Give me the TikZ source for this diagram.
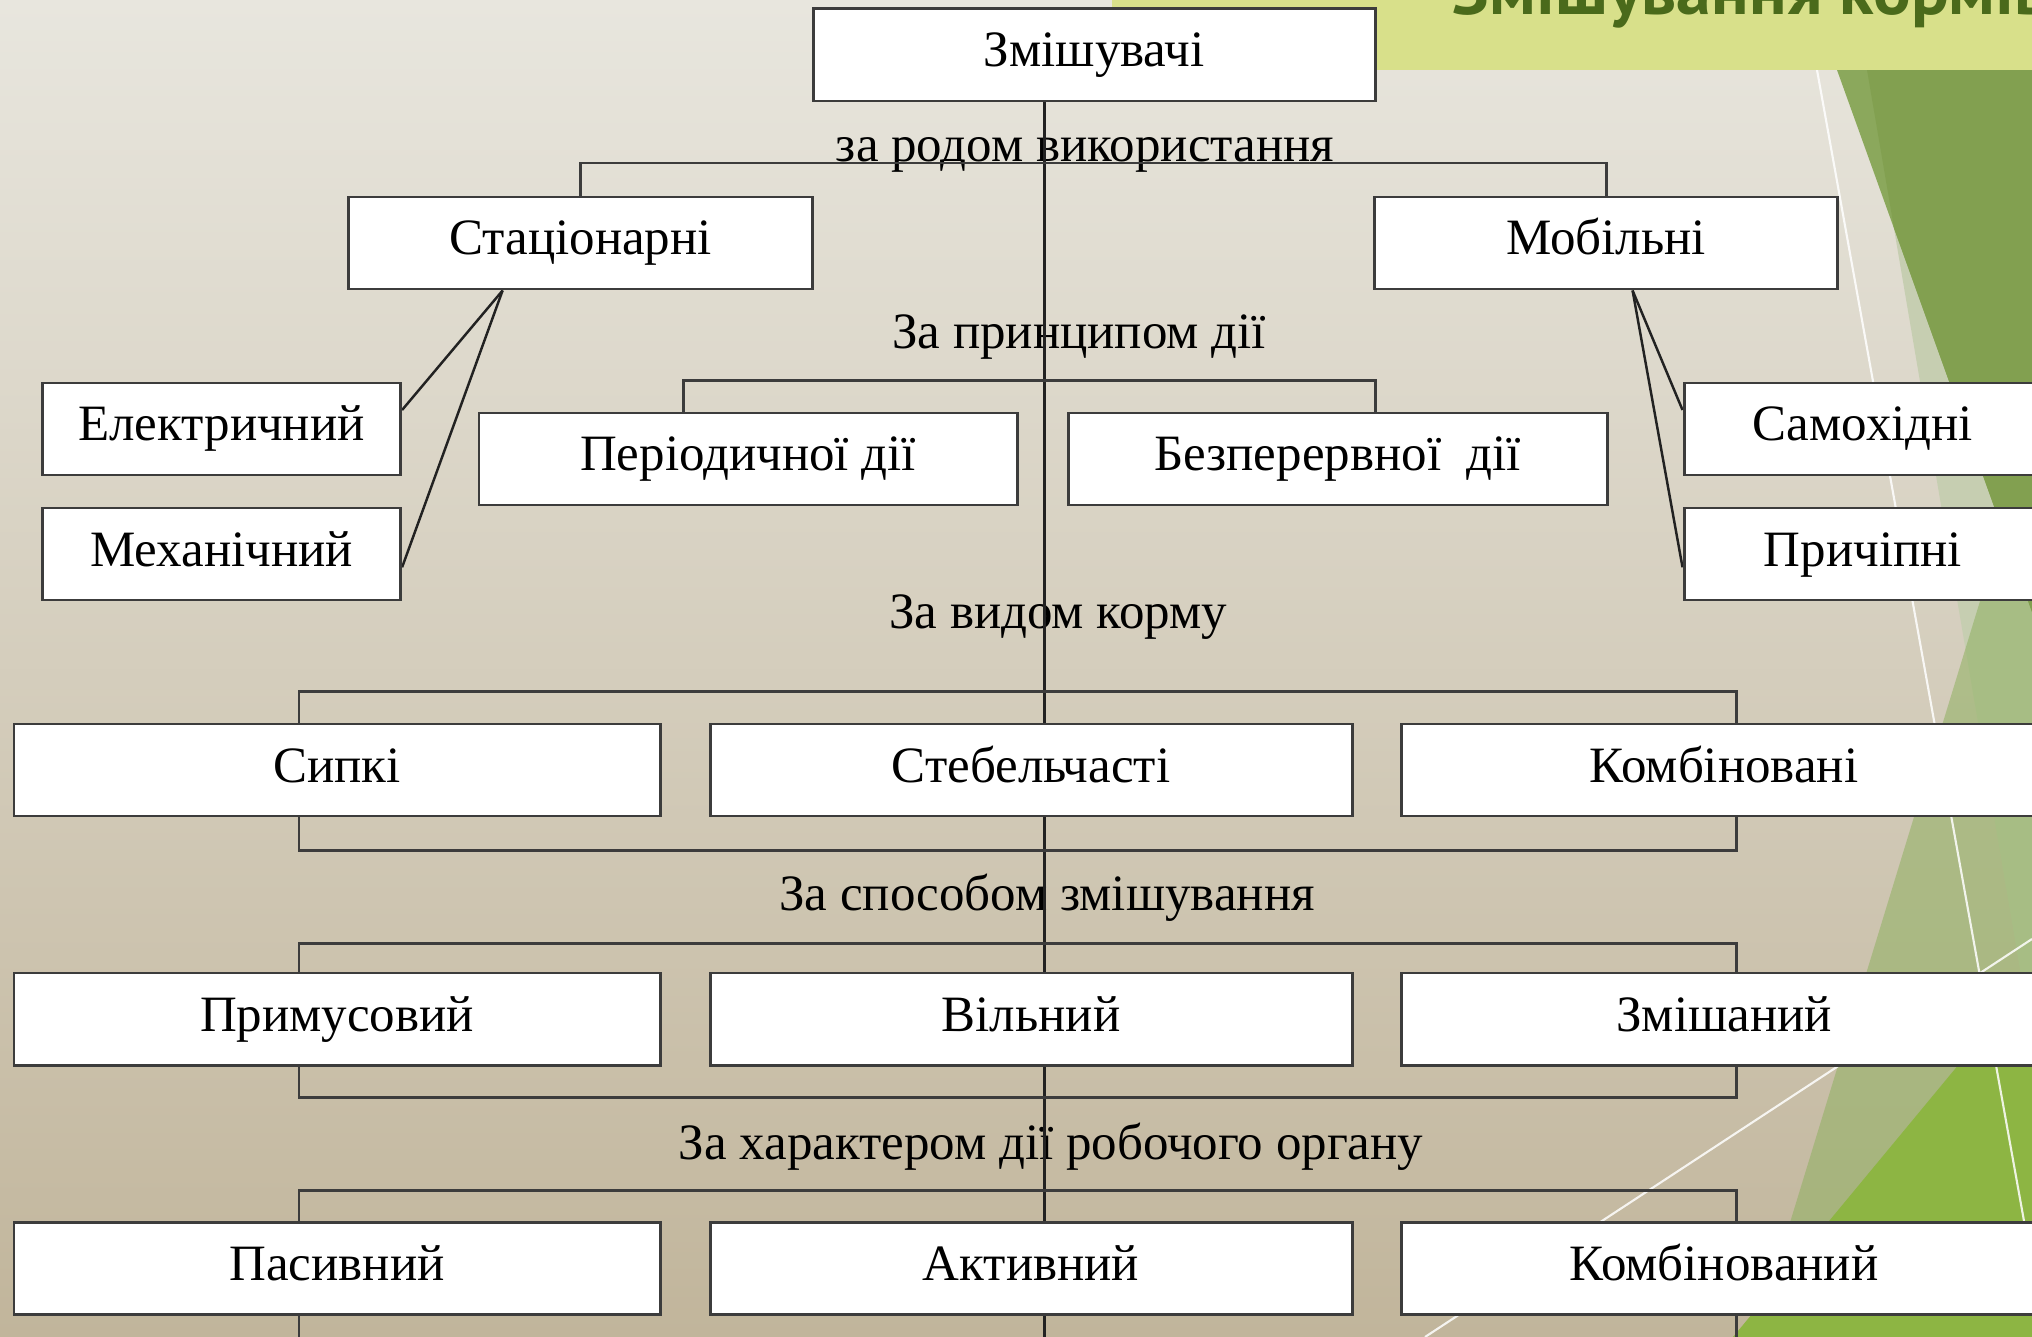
\documentclass[tikz,border=0pt]{standalone}
\usepackage{fontspec}
\setmainfont{Liberation Serif}
\newfontfamily\titlefont[FakeStretch=1.05]{PT Sans}
\usetikzlibrary{calc}
\definecolor{bgtop}{HTML}{E8E6DE}
\definecolor{bgbottom}{HTML}{C1B59B}
\definecolor{band}{HTML}{D8E08A}
\definecolor{titlegreen}{HTML}{4A6A1B}
\definecolor{olive}{HTML}{82A050}
\definecolor{olivelight}{HTML}{8BA85C}
\definecolor{pale}{HTML}{C6CEB1}
\definecolor{midgreen}{HTML}{8FB060}
\definecolor{brightgreen}{HTML}{8DB543}
\definecolor{boxline}{HTML}{3C3C3C}
\definecolor{linkline}{HTML}{222222}
\pgfdeclarelayer{back}
\pgfdeclarelayer{links}
\pgfsetlayers{back,links,main}

\begin{document}
\begin{tikzpicture}[x=1cm,y=1cm,
  box/.style={draw=boxline, line width=0.85pt, fill=white, minimum height=0.92cm, inner sep=0pt, text height=0.32cm, text depth=0.08cm, font=\fontsize{14.5}{17}\selectfont},
  crit/.style={anchor=base, inner sep=0pt, font=\fontsize{14.5}{17}\selectfont},
  link/.style={draw=linkline, line width=0.7pt},
  rail/.style={draw=boxline, line width=0.85pt}]
\useasboundingbox (0,0) rectangle (20.32,-13.37);
\begin{pgfonlayer}{back}
\clip (0,0) rectangle (20.32,-13.37);
\shade[top color=bgtop, bottom color=bgbottom] (0,0) rectangle (20.32,-13.37);
\fill[pale] (18.67,-0.7) -- (20.32,-0.7) -- (20.32,-10.4) -- cycle;
\fill[midgreen, opacity=0.55] (20.32,-4.31) -- (20.32,-13.37) -- (17.55,-13.37) -- cycle;
\fill[olivelight] (18.37,-0.7) -- (20.32,-0.7) -- (20.32,-6.12) -- cycle;
\fill[olive] (18.67,-0.7) -- (18.94,-2.28) -- (20.32,-6.12) -- (20.32,-0.7) -- cycle;
\fill[brightgreen] (20.32,-9.76) -- (20.32,-13.37) -- (17.33,-13.37) -- cycle;
\draw[white, line width=0.6pt, opacity=0.85] (18.17,-0.7) -- (20.40,-13.1);
\draw[white, line width=0.6pt, opacity=0.85] (14.25,-13.37) -- (20.32,-9.39);
\fill[band] (11.12,0) rectangle (20.32,-0.7);
\node[anchor=base west, inner sep=0pt, text=titlegreen, font=\titlefont\bfseries\fontsize{19}{22}\selectfont] (title) at (14.52,-0.15) {Змішування кормів};
\node[crit] (use) at (10.85,-1.62) {за родом використання};
\node[crit] (principle) at (10.79,-3.49) {За принципом дії};
\node[crit] (feed) at (10.58,-6.29) {За видом корму};
\node[crit] (mixing) at (10.47,-9.10) {За способом змішування};
\node[crit] (organ) at (10.51,-11.59) {За характером дії робочого органу};
\end{pgfonlayer}

\coordinate (trunk) at (10.445,-13.37);
\coordinate (lx) at (2.99,-13.37);
\coordinate (rx) at (17.365,-13.37);

\node[box, minimum width=5.62cm] (mixers) at (10.94,-0.55) {Змішувачі};
\node[box, minimum width=4.64cm] (stat) at (5.806,-2.43) {Стаціонарні};
\node[box, minimum width=4.63cm] (mob) at (16.06,-2.43) {Мобільні};
\node[box, minimum width=3.58cm] (el) at (2.216,-4.29) {Електричний};
\node[box, minimum width=3.58cm] (mech) at (2.216,-5.54) {Механічний};
\node[box, minimum width=5.38cm] (per) at (7.48,-4.59) {Періодичної дії};
\node[box, minimum width=5.39cm] (bez) at (13.375,-4.59) {Безперервної~~дії};
\node[box, minimum width=3.58cm] (self) at (18.63,-4.29) {Самохідні};
\node[box, minimum width=3.58cm] (trail) at (18.63,-5.54) {Причіпні};
\node[box, minimum width=6.46cm] (syp) at (3.37,-7.70) {Сипкі};
\node[box, minimum width=6.42cm] (steb) at (10.31,-7.70) {Стебельчасті};
\node[box, minimum width=6.46cm] (komb) at (17.24,-7.70) {Комбіновані};
\node[box, minimum width=6.46cm] (forced) at (3.37,-10.19) {Примусовий};
\node[box, minimum width=6.42cm] (free) at (10.31,-10.19) {Вільний};
\node[box, minimum width=6.46cm] (mixed) at (17.24,-10.19) {Змішаний};
\node[box, minimum width=6.46cm] (passive) at (3.37,-12.685) {Пасивний};
\node[box, minimum width=6.42cm] (active) at (10.31,-12.685) {Активний};
\node[box, minimum width=6.46cm] (kombn) at (17.24,-12.685) {Комбінований};

\begin{pgfonlayer}{links}
\draw[link] (mixers.south -| trunk) -- (trunk);
\draw[rail] (stat.north) -- ++(0,0.325) -| (mob.north);
\draw[link] ($(stat.south west)!.333!(stat.south east)$) -- ($(el.north east)!.3!(el.south east)$);
\draw[link] ($(stat.south west)!.333!(stat.south east)$) -- ($(mech.north east)!.64!(mech.south east)$);
\draw[link] ($(mob.south west)!.557!(mob.south east)$) -- ($(self.north west)!.3!(self.south west)$);
\draw[link] ($(mob.south west)!.557!(mob.south east)$) -- ($(trail.north west)!.64!(trail.south west)$);
\draw[rail] ($(per.north west)!.38!(per.north east)$) -- ++(0,0.31) -| ($(bez.north west)!.57!(bez.north east)$);
\draw[rail] (syp.north -| lx) -- ++(0,0.31) -| (komb.north -| rx);
\draw[rail] (syp.south -| lx) -- ++(0,-0.33) -| (komb.south -| rx);
\draw[rail] (forced.north -| lx) -- ++(0,0.28) -| (mixed.north -| rx);
\draw[rail] (forced.south -| lx) -- ++(0,-0.31) -| (mixed.south -| rx);
\draw[rail] (passive.north -| lx) -- ++(0,0.31) -| (kombn.north -| rx);
\draw[rail] (passive.south -| lx) -- (lx);
\draw[rail] (kombn.south -| rx) -- (rx);
\end{pgfonlayer}
\end{tikzpicture}
\end{document}
